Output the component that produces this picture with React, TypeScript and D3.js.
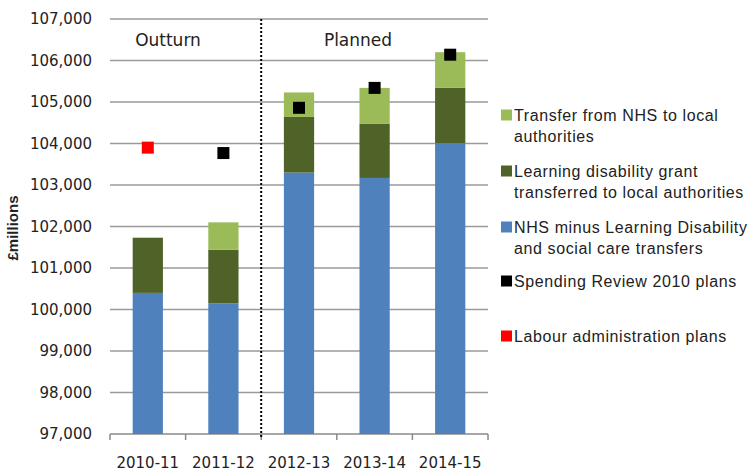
import React from 'react'
import * as d3 from 'd3'

const years = ['2010-11', '2011-12', '2012-13', '2013-14', '2014-15']
const nhsMinus = [100400, 100150, 103300, 103170, 104010]
const ldGrant = [1330, 1290, 1340, 1310, 1330]
const nhsTransfer = [0, 660, 590, 860, 860]
const spendingReview = [null, 103770, 104860, 105340, 106140]
const labourPlans = [103900, null, null, null, null]
const yTicks = [97000, 98000, 99000, 100000, 101000, 102000, 103000, 104000, 105000, 106000, 107000]

const colors = { nhs: '#4f81bd', ld: '#4f6228', tr: '#9bbb59' }

const legendItems = [
  { color: colors.tr, lines: ['Transfer from NHS to local', 'authorities'], y: 115 },
  { color: colors.ld, lines: ['Learning disability grant', 'transferred to local authorities'], y: 171 },
  { color: colors.nhs, lines: ['NHS minus Learning Disability', 'and social care transfers'], y: 227 },
  { color: '#000000', lines: ['Spending Review 2010 plans'], y: 281 },
  { color: '#ff0000', lines: ['Labour administration plans'], y: 336 },
]

export default function App() {
  const width = 756
  const height = 476
  const left = 110, right = 488, top = 19, bottom = 434

  const x = d3.scaleBand<string>().domain(years).range([left, right]).paddingInner(0.6).paddingOuter(0.3)
  const y = d3.scaleLinear().domain([97000, 107000]).range([bottom, top])
  const step = x.step()
  const bw = x.bandwidth()

  const rows = years.map((yr, i) => ({ year: yr, nhs: nhsMinus[i] - 97000, ld: ldGrant[i], tr: nhsTransfer[i] }))
  const series = d3.stack<any>().keys(['nhs', 'ld', 'tr'])(rows)

  const divX = (x('2012-13') as number) - (step - bw) / 2
  const boundaries = d3.range(years.length + 1).map(i => left + i * step)
  const tickFont = '"DejaVu Sans", Verdana, sans-serif'
  const legendFont = '"Liberation Sans", Arial, sans-serif'
  const ms = 12

  return (
    <svg width={width} height={height} style={{ position: 'absolute', left: 0, top: 0, background: '#fff' }}>
      {yTicks.map(t => (
        <g key={t}>
          {t > 97000 && <line x1={left} x2={right} y1={y(t)} y2={y(t)} stroke="#9a9a9a" strokeWidth={1.5} />}
          <text x={92} y={y(t)} dy="0.35em" textAnchor="end" fontFamily={tickFont} fontSize={15} fill="#222">
            {d3.format(',')(t)}
          </text>
        </g>
      ))}
      <line x1={left} x2={right} y1={bottom} y2={bottom} stroke="#8a8a8a" strokeWidth={1.5} />
      {boundaries.map((b, i) => (
        <line key={i} x1={b} x2={b} y1={bottom} y2={bottom + 6} stroke="#8a8a8a" strokeWidth={1.5} />
      ))}
      {series.map(s => (
        <g key={s.key} fill={(colors as any)[s.key]}>
          {s.map((d, i) => d[1] > d[0] ? (
            <rect key={i} x={x(years[i])} width={bw} y={y(97000 + d[1])} height={y(97000 + d[0]) - y(97000 + d[1])} />
          ) : null)}
        </g>
      ))}
      {spendingReview.map((v, i) => v == null ? null : (
        <rect key={'sr' + i} x={(x(years[i]) as number) + bw / 2 - ms / 2} y={y(v) - ms / 2} width={ms} height={ms} fill="#000" />
      ))}
      {labourPlans.map((v, i) => v == null ? null : (
        <rect key={'lp' + i} x={(x(years[i]) as number) + bw / 2 - ms / 2} y={y(v) - ms / 2} width={ms} height={ms} fill="#ff0000" />
      ))}
      <line x1={divX} x2={divX} y1={top} y2={bottom + 4} stroke="#000" strokeWidth={2} strokeDasharray="2,2" />
      <text x={168} y={46} textAnchor="middle" fontFamily={tickFont} fontSize={17} fill="#222">Outturn</text>
      <text x={358} y={46} textAnchor="middle" fontFamily={tickFont} fontSize={17} fill="#222">Planned</text>
      {years.map(yr => (
        <text key={yr} x={(x(yr) as number) + bw / 2} y={463} dy="0.35em" textAnchor="middle" fontFamily={tickFont} fontSize={15} fill="#222">{yr}</text>
      ))}
      <text transform={`translate(13,228) rotate(-90)`} textAnchor="middle" dy="0.35em"
        fontFamily={legendFont} fontWeight="bold" fontSize={15} fill="#222">£millions</text>
      {legendItems.map(item => (
        <g key={item.lines[0]}>
          <rect x={501} y={item.y - 5.5} width={11} height={11} fill={item.color} />
          {item.lines.map((ln, j) => (
            <text key={j} x={514} y={item.y + j * 21} dy="0.35em" fontFamily={legendFont} fontSize={16}
              letterSpacing={0.6} fill="#222">{ln}</text>
          ))}
        </g>
      ))}
    </svg>
  )
}
